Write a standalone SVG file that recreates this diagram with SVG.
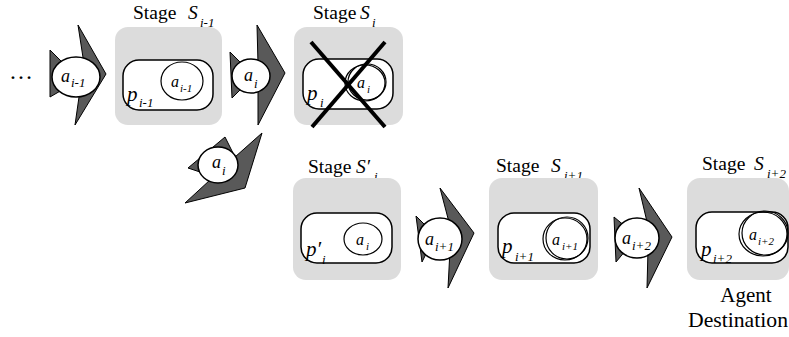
<svg xmlns="http://www.w3.org/2000/svg" width="789" height="337" viewBox="0 0 789 337">
  <style>
    text { font-family: "Liberation Serif", "Times New Roman", serif; fill: #000; }
    .stage-title { font-size: 19.5px; }
    .sym { font-style: italic; }
    .big { font-size: 21px; }
    .mid { font-size: 18px; }
    .sm { font-size: 16px; }
    .sub { font-size: 13px; font-style: italic; }
    .subsm { font-size: 11px; font-style: italic; }
    .stage-bg { fill: #dcdcdc; }
    .place { fill: #fff; stroke: #000; stroke-width: 1.5; }
    .agent-body { fill: #595959; stroke: #000; stroke-width: 1; stroke-linejoin: miter; }
    .agent-core { fill: #fff; stroke: #000; stroke-width: 1.5; }
    .resident { fill: none; stroke: #000; stroke-width: 1.2; }
    .cancel { stroke: #000; stroke-width: 4; stroke-linecap: butt; }
  </style>

  <!-- leading ellipsis -->
  <text x="9" y="79" font-size="24">…</text>

  <!-- Stage S(i-1) -->
  <g id="stage-s-im1">
    <text class="stage-title" x="133" y="19">Stage</text>
    <text class="stage-title sym" x="188" y="19">S</text>
    <text class="sub" x="200" y="27">i-1</text>
    <rect class="stage-bg" x="115" y="27" width="107" height="98" rx="13"/>
    <rect class="place" x="123" y="60" width="90" height="50" rx="16"/>
    <ellipse class="resident" cx="182" cy="81" rx="21" ry="19"/>
    <text class="sm sym" x="171" y="87">a</text>
    <text class="subsm" x="180" y="92">i-1</text>
    <text class="big sym" x="127" y="101">p</text>
    <text class="sub" x="139" y="107">i-1</text>
  </g>

  <!-- Stage S(i), cancelled -->
  <g id="stage-s-i">
    <text class="stage-title" x="313" y="19">Stage</text>
    <text class="stage-title sym" x="360" y="19">S</text>
    <text class="sub" x="372" y="27">i</text>
    <rect class="stage-bg" x="294" y="27" width="109" height="98" rx="13"/>
    <rect class="place" x="303" y="59" width="90" height="50" rx="16"/>
    <ellipse class="resident" cx="365" cy="83" rx="20" ry="18"/>
    <ellipse class="resident" cx="367" cy="82" rx="19" ry="18"/>
    <text class="sm sym" x="357" y="88">a</text>
    <text class="subsm" x="367" y="93">i</text>
    <text class="big sym" x="307" y="100">p</text>
    <text class="sub" x="320" y="107">i</text>
    <line class="cancel" x1="311" y1="42" x2="385" y2="127"/>
    <line class="cancel" x1="385" y1="42" x2="312" y2="127"/>
  </g>

  <!-- Stage S'(i) -->
  <g id="stage-s-prime-i">
    <text class="stage-title" x="308" y="173">Stage</text>
    <text class="stage-title sym" x="356" y="173">S′</text>
    <text class="sub" x="374" y="181">i</text>
    <rect class="stage-bg" x="293" y="178" width="108" height="102" rx="13"/>
    <rect class="place" x="301" y="213" width="91" height="50" rx="16"/>
    <ellipse class="resident" cx="363" cy="239" rx="19" ry="16"/>
    <text class="sm sym" x="356" y="245">a</text>
    <text class="subsm" x="366" y="250">i</text>
    <text class="big sym" x="306" y="256">p′</text>
    <text class="sub" x="322" y="264">i</text>
  </g>

  <!-- Stage S(i+1) -->
  <g id="stage-s-ip1">
    <text class="stage-title" x="496" y="172">Stage</text>
    <text class="stage-title sym" x="551" y="172">S</text>
    <text class="sub" x="564" y="180">i+1</text>
    <rect class="stage-bg" x="489" y="178" width="109" height="102" rx="13"/>
    <rect class="place" x="498" y="213" width="92" height="50" rx="16"/>
    <ellipse class="resident" cx="565" cy="239" rx="22" ry="21"/>
    <ellipse class="resident" cx="567" cy="238" rx="21" ry="21"/>
    <text class="sm sym" x="552" y="245">a</text>
    <text class="subsm" x="562" y="250">i+1</text>
    <text class="big sym" x="502" y="253">p</text>
    <text class="sub" x="515" y="261">i+1</text>
  </g>

  <!-- Stage S(i+2), the destination -->
  <g id="stage-s-ip2">
    <text class="stage-title" x="702" y="170">Stage</text>
    <text class="stage-title sym" x="754" y="170">S</text>
    <text class="sub" x="767" y="178">i+2</text>
    <rect class="stage-bg" x="687" y="178" width="102" height="102" rx="13"/>
    <rect class="place" x="696" y="212" width="92" height="51" rx="16"/>
    <ellipse class="resident" cx="763" cy="234" rx="24" ry="22"/>
    <ellipse class="resident" cx="765" cy="233" rx="23" ry="22"/>
    <text class="sm sym" x="749" y="240">a</text>
    <text class="subsm" x="758" y="245">i+2</text>
    <text class="big sym" x="701" y="256">p</text>
    <text class="sub" x="713" y="263">i+2</text>
    <text font-size="21" x="746" y="302" text-anchor="middle">Agent</text>
    <text font-size="21" x="688" y="327" textLength="100" lengthAdjust="spacingAndGlyphs">Destination</text>
  </g>

  <!-- migrating agents -->
  <g id="connectors">
    <g id="agent-a-im1">
      <polygon class="agent-body" points="50,50 62,62 84,64 78,25 106,74 75,125 80,90 62,90 50,97"/>
      <ellipse class="agent-core" cx="76" cy="77" rx="24" ry="20"/>
      <text class="mid sym" x="61" y="82">a</text>
      <text class="sub" x="71" y="87">i-1</text>
    </g>
    <g id="agent-a-i">
      <polygon class="agent-body" points="230,52 242,64 258,64 257,25 285,73 258,125 258,88 242,88 232,98"/>
      <ellipse class="agent-core" cx="251" cy="76" rx="19" ry="17"/>
      <text class="mid sym" x="244" y="81">a</text>
      <text class="sub" x="254" y="88">i</text>
    </g>
    <g id="agent-a-i-detour">
      <polygon class="agent-body" points="188,168 225,137 235,157 262,133 245,188 185,203 210,180 200,172"/>
      <ellipse class="agent-core" cx="218" cy="165" rx="20" ry="18"/>
      <text class="mid sym" x="212" y="168">a</text>
      <text class="sub" x="222" y="175">i</text>
    </g>
    <g id="agent-a-ip1">
      <polygon class="agent-body" points="416,216 428,228 450,226 440,188 474,233 448,288 450,250 428,250 422,262"/>
      <ellipse class="agent-core" cx="440" cy="239" rx="22" ry="21"/>
      <text class="mid sym" x="425" y="245">a</text>
      <text class="sub" x="435" y="251">i+1</text>
    </g>
    <g id="agent-a-ip2">
      <polygon class="agent-body" points="614,217 626,227 648,226 639,188 672,237 647,288 648,250 626,250 616,262"/>
      <ellipse class="agent-core" cx="637" cy="238" rx="22" ry="20"/>
      <text class="mid sym" x="622" y="244">a</text>
      <text class="sub" x="632" y="250">i+2</text>
    </g>
  </g>
</svg>
